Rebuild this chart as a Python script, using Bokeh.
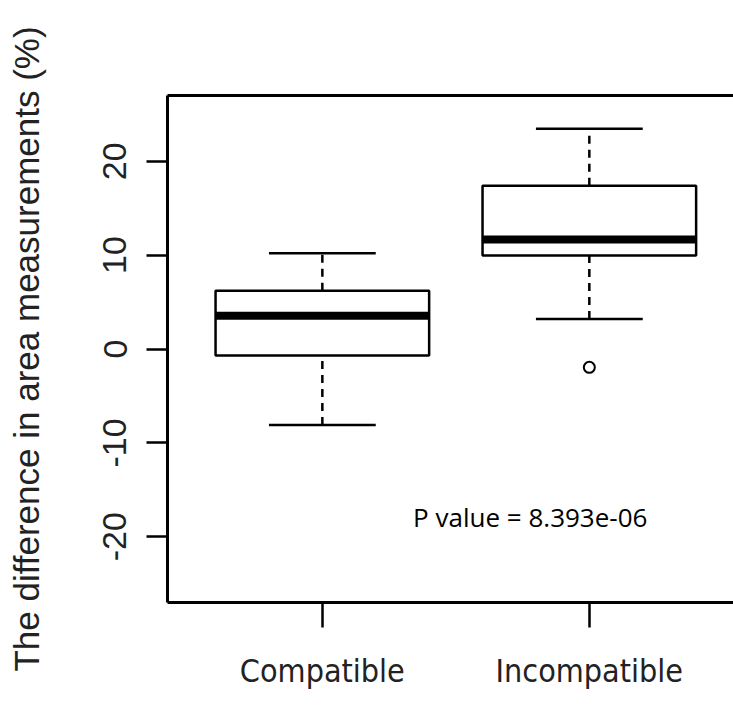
from bokeh.plotting import figure
from bokeh.models import Range1d, FixedTicker, LinearAxis, ColumnDataSource
from bokeh.core.properties import value
from bokeh.embed import file_html
from bokeh.resources import INLINE

# ---- data ----
categories = ["Compatible", "Incompatible"]
lower_whisker = [-8.1, 3.2]
q1 = [-0.7, 9.95]
median = [3.55, 11.65]
q3 = [6.2, 17.4]
upper_whisker = [10.2, 23.45]
outlier_group = ["Incompatible"]
outlier_value = [-1.95]
y_ticks = [-20, -10, 0, 10, 20]
y_tick_labels = ["-20", "-10", "0", "10", "20"]
annotation_text = "P value = 8.393e-06"

pos = [i + 1 for i in range(len(categories))]
box_half = 0.4
cap_half = 0.2

src = ColumnDataSource(dict(
    x=pos,
    left=[x - box_half for x in pos],
    right=[x + box_half for x in pos],
    cl=[x - cap_half for x in pos],
    cr=[x + cap_half for x in pos],
    lw=lower_whisker, q1=q1, med=median, q3=q3, uw=upper_whisker,
))
out_src = ColumnDataSource(dict(
    x=[categories.index(g) + 1 for g in outlier_group],
    y=outlier_value,
))

p = figure(width=733, height=710, output_backend="svg", toolbar_location=None,
           x_range=Range1d(0.42, 2.54), y_range=Range1d(-27, 27),
           min_border_left=167, min_border_right=0, min_border_top=95,
           min_border_bottom=108, x_axis_location="below")
p.grid.visible = False
p.outline_line_color = None
p.background_fill_color = "white"
p.border_fill_color = "white"

# whiskers (dashed)
p.segment(x0="x", y0="q3", x1="x", y1="uw", source=src, line_color="black",
          line_width=2.5, line_dash="8 6")
p.segment(x0="x", y0="lw", x1="x", y1="q1", source=src, line_color="black",
          line_width=2.5, line_dash="8 6")
# caps
p.segment(x0="cl", y0="uw", x1="cr", y1="uw", source=src, line_color="black", line_width=2.5)
p.segment(x0="cl", y0="lw", x1="cr", y1="lw", source=src, line_color="black", line_width=2.5)
# boxes
p.quad(left="left", right="right", bottom="q1", top="q3", source=src,
       fill_color="white", line_color="black", line_width=2.5)
# medians
p.segment(x0="left", y0="med", x1="right", y1="med", source=src,
          line_color="black", line_width=8, line_cap="butt")
# outliers
p.scatter(x="x", y="y", source=out_src, marker="circle", size=11,
          fill_color=None, line_color="black", line_width=2)

# annotation
p.text(x=[1.34], y=[-17.9], text=[annotation_text], text_font=value("Open Sans"),
       text_font_size="26px", text_color="black", text_baseline="alphabetic",
       text_align="left")

# x axis
xa = p.xaxis[0]
xa.ticker = FixedTicker(ticks=pos)
xa.major_label_overrides = {x: c for x, c in zip(pos, categories)}
xa.minor_tick_line_color = None
xa.major_tick_in = 0
xa.major_tick_out = 25
xa.major_tick_line_width = 2.5
xa.axis_line_width = 3
xa.major_label_standoff = 24
xa.major_label_text_font = "DejaVu Sans Condensed"
xa.major_label_text_font_size = "32px"
xa.major_label_text_color = "#222222"

# y axis
ya = p.yaxis[0]
ya.ticker = FixedTicker(ticks=y_ticks)
ya.major_label_overrides = {t: s for t, s in zip(y_ticks, y_tick_labels)}
ya.minor_tick_line_color = None
ya.major_tick_in = 0
ya.major_tick_out = 21
ya.major_tick_line_width = 2.5
ya.axis_line_width = 3
ya.major_label_orientation = "vertical"
ya.major_label_standoff = 20
ya.major_label_text_font = "Liberation Sans"
ya.major_label_text_font_size = "34px"
ya.major_label_text_color = "#222222"
ya.axis_label = "The difference in area measurements (%)"
ya.axis_label_text_font = "Liberation Sans"
ya.axis_label_text_font_size = "35px"
ya.axis_label_text_font_style = "normal"
ya.axis_label_text_color = "#222222"
ya.axis_label_standoff = 55

# top border as an axis line
top = LinearAxis(ticker=FixedTicker(ticks=[]), axis_line_width=3,
                 major_tick_line_color=None, minor_tick_line_color=None,
                 major_label_text_font_size="0px")
p.add_layout(top, "above")

open("out.html", "w").write(file_html(p, INLINE))
